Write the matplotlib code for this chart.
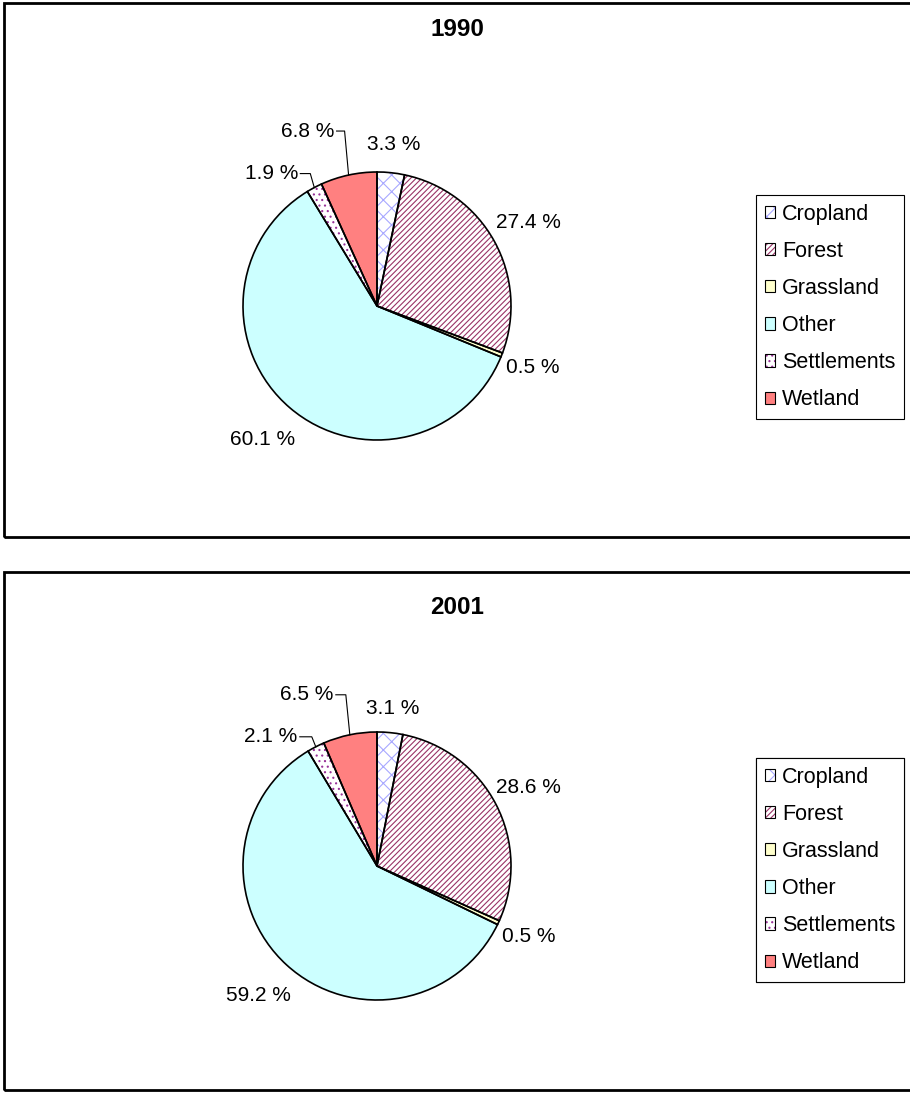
import matplotlib
matplotlib.use('Agg')
import matplotlib.pyplot as plt
from matplotlib.patches import Rectangle, Patch
from matplotlib.legend_handler import HandlerTuple
import numpy as np

W, H = 910, 1093

# ---------------- data ----------------
categories = ['Cropland', 'Forest', 'Grassland', 'Other', 'Settlements', 'Wetland']
years = ['1990', '2001']
share_1990 = [3.3, 27.4, 0.5, 60.1, 1.9, 6.8]
share_2001 = [3.1, 28.6, 0.5, 59.2, 2.1, 6.5]

# ---------------- styles ----------------
face_colors = ['white', 'white', '#FFFFCC', '#CCFFFF', 'white', '#FF8080']
hatch_colors = ['#A8A8FF', '#993366', '#FFFFCC', '#CCFFFF', '#993399', '#FF8080']
hatches = ['xx', '//////', None, None, '...', None]

plt.rcParams['font.family'] = ['Liberation Sans', 'DejaVu Sans']
plt.rcParams['hatch.linewidth'] = 0.8

fig = plt.figure(figsize=(W / 100, H / 100), dpi=100)
ax = fig.add_axes([0, 0, 1, 1])


def fy(py):
    return H - py


# layout per panel (pixel units)
panels = [
    dict(year=years[0], values=share_1990, box=(4, 3, 915, 537), center=(377, 306),
         title_y=29, legend_top=195,
         dist=[1.21, 1.29, 1.25, 1.31],
         leader_offsets={4: (-43, 14), 5: (-41, 44)}),
    dict(year=years[1], values=share_2001, box=(4, 572, 915, 1090), center=(377, 866),
         title_y=607, legend_top=758,
         dist=[1.18, 1.27, 1.25, 1.31],
         leader_offsets={4: (-45, 10), 5: (-43, 40)}),
]
R = 134

legend_handles = []
for i in range(len(categories)):
    hp = Patch(facecolor=face_colors[i], edgecolor=hatch_colors[i], hatch=hatches[i], linewidth=0)
    op = Patch(facecolor='none', edgecolor='black', linewidth=0.8)
    legend_handles.append((hp, op))

for p in panels:
    x0, y0, x1, y1 = p['box']
    ax.add_patch(Rectangle((x0, fy(y1)), x1 - x0, y1 - y0, facecolor='none',
                           edgecolor='black', linewidth=2.0, zorder=0))
    cx, cy = p['center']
    vals = p['values']
    # fill + hatch layer
    wedges, _ = ax.pie(vals, startangle=90, counterclock=False, radius=R,
                       center=(cx, fy(cy)), colors=face_colors,
                       wedgeprops=dict(linewidth=0), frame=True)
    for w, hc, h in zip(wedges, hatch_colors, hatches):
        w.set_edgecolor(hc)
        if h:
            w.set_hatch(h)
    # outline layer
    owedges, _ = ax.pie(vals, startangle=90, counterclock=False, radius=R,
                        center=(cx, fy(cy)),
                        wedgeprops=dict(facecolor='none', edgecolor='black', linewidth=1.2),
                        frame=True)
    # labels
    for i, w in enumerate(owedges):
        ang = np.deg2rad((w.theta1 + w.theta2) / 2)
        lab = f'{vals[i]:.1f} %'
        if i in p['leader_offsets']:
            ex, ey = cx + R * np.cos(ang), fy(cy) + R * np.sin(ang)
            dx, dy = p['leader_offsets'][i]
            tx, ty = ex + dx, ey + dy
            ax.text(tx, ty, lab, ha='center', va='center', fontsize=15)
            half_w = 27
            ax.plot([tx + half_w + 2, ex - 4, ex], [ty, ty, ey], color='black', lw=0.8)
        else:
            d = p['dist'][i] * R
            ax.text(cx + d * np.cos(ang), fy(cy) + d * np.sin(ang), lab,
                    ha='center', va='center', fontsize=15)
    ax.text((x0 + 910) / 2, fy(p['title_y']), p['year'], ha='center', va='center',
            fontsize=17.5, fontweight='bold')
    leg = ax.legend(legend_handles, categories, loc='upper left',
                    bbox_to_anchor=(756 / W, fy(p['legend_top']) / H),
                    bbox_transform=fig.transFigure,
                    handler_map={tuple: HandlerTuple(ndivide=1, pad=0)},
                    fontsize=15.5, frameon=True, fancybox=False, edgecolor='black',
                    framealpha=1, handlelength=0.5, handleheight=0.5,
                    handletextpad=0.3, labelspacing=0.75, borderpad=0.4,
                    borderaxespad=0)
    leg.get_frame().set_linewidth(0.8)
    ax.add_artist(leg)

ax.set_xlim(0, W)
ax.set_ylim(0, H)
ax.set_aspect('auto')
ax.axis('off')

fig.savefig('out.png', dpi=100)
